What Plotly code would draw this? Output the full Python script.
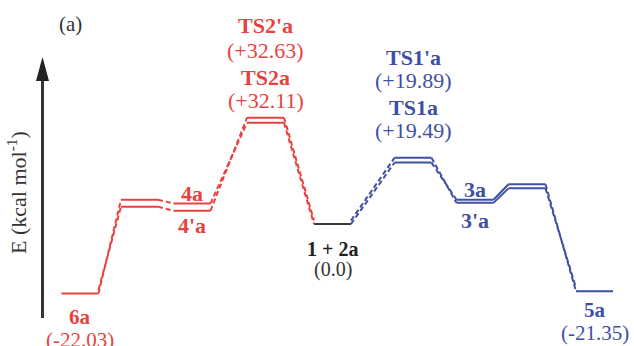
import plotly.graph_objects as go

# ---------------- data ----------------
state_names  = ["6a", "INT", "4a", "TS2a", "1 + 2a", "TS1a", "3a", "TS", "5a"]
prime_names  = [None, None, "4'a", "TS2'a", None, "TS1'a", "3'a", None, None]
state_branch = ["TS2", "TS2", "TS2", "TS2", "ref", "TS1", "TS1", "TS1", "TS1"]
energy       = [-22.03, 7.7, 6.5, 32.11, 0.0, 19.49, 7.7, 12.6, -21.35]
energy_prime = [None, 4.4, 3.1, 32.63, None, 19.89, 5.6, 10.2, None]
show_name    = [True, False, True, True, True, True, True, False, True]
show_energy  = [True, False, False, True, True, True, False, False, True]

# ---------------- layout / style ----------------
W, H = 634, 346
ZERO_PX = 224          # pixel row of E = 0
PX_PER_KCAL = 3.15
PRIME_SHIFT_PX = 3.5   # visual offset of the primed pathway (double lines)
level_x = [80, 139.5, 192, 265.5, 332.5, 413, 475, 527, 594.5]
HALF_W = 18.5
solid_links = {6}

COLORS = {"TS2": "#E8423F", "ref": "#3A3A3A", "TS1": "#3F4FA3"}
TEXT_COLORS = {"TS2": "#E8423F", "ref": "#222222", "TS1": "#3F4FA3"}
FONT = "Liberation Serif, Times New Roman, serif"
FS = 22
FS_SMALL = [21, None, 22, 22, 20, 22, 22, None, 21]

# pixel offsets of the labels relative to their level line
NAME_DY         = [-24, None, 10, 45, -25, 55, 10, None, -19]
ENERGY_DY       = [-47, None, None, 22, -45, 32, None, None, -42]
PRIME_NAME_DY   = [None, None, -15, 92, None, 100, -18, None, None]
PRIME_ENERGY_DY = [None, None, None, 67, None, 77, None, None, None]

n = len(state_names)
y_range = [-(H - ZERO_PX) / PX_PER_KCAL, ZERO_PX / PX_PER_KCAL]
shift = PRIME_SHIFT_PX / PX_PER_KCAL
y2_range = [y_range[0] - shift, y_range[1] - shift]

segs = {}


def add(key, x0, y0, x1, y1):
    d = segs.setdefault(key, {"x": [], "y": []})
    d["x"] += [x0, x1, None]
    d["y"] += [y0, y1, None]


for E, axis in [(energy, "y"), (energy_prime, "y2")]:
    vals = [E[i] if E[i] is not None else energy[i] for i in range(n)]
    for i in range(n):
        if E[i] is not None:
            add((state_branch[i], axis, "solid"),
                level_x[i] - HALF_W, vals[i], level_x[i] + HALF_W, vals[i])
    for i in range(n - 1):
        if E[i] is None and E[i + 1] is None:
            continue
        b = state_branch[i] if state_branch[i] != "ref" else state_branch[i + 1]
        dash = "solid" if i in solid_links else "dash"
        add((b, axis, dash),
            level_x[i] + HALF_W, vals[i], level_x[i + 1] - HALF_W, vals[i + 1])

fig = go.Figure()
for (branch, axis, dash), d in segs.items():
    fig.add_trace(go.Scatter(
        x=d["x"], y=d["y"], mode="lines", yaxis=axis,
        line=dict(color=COLORS[branch], width=2,
                  dash="solid" if dash == "solid" else "5px,3px"),
        hoverinfo="skip", showlegend=False))


def fmt(e):
    return "(0.0)" if e == 0 else f"({e:+.2f})"


annotations = []


def label(x, y, yref, dy, text, color, bold, size):
    annotations.append(dict(
        x=x, y=y, xref="x", yref=yref, yshift=dy, showarrow=False,
        text=f"<b>{text}</b>" if bold else text,
        xanchor="center", yanchor="middle",
        font=dict(family=FONT, size=size, color=color)))


for i in range(n):
    c = TEXT_COLORS[state_branch[i]]
    fs = FS_SMALL[i] or FS
    if show_name[i]:
        label(level_x[i], energy[i], "y", NAME_DY[i], state_names[i], c, True, fs)
    if show_energy[i]:
        ec = "#333333" if state_branch[i] == "ref" else c
        label(level_x[i], energy[i], "y", ENERGY_DY[i], fmt(energy[i]), ec, False, fs)
    if prime_names[i] is not None:
        label(level_x[i], energy_prime[i], "y2", PRIME_NAME_DY[i], prime_names[i], c, True, fs)
        if PRIME_ENERGY_DY[i] is not None:
            label(level_x[i], energy_prime[i], "y2", PRIME_ENERGY_DY[i],
                  fmt(energy_prime[i]), c, False, fs)

# panel label and energy-axis title
annotations.append(dict(x=70, y=1 - 24 / H, xref="x", yref="paper", showarrow=False,
                        text="(a)", xanchor="center", yanchor="middle",
                        font=dict(family=FONT, size=21, color="#333333")))
annotations.append(dict(x=17, y=1 - 193 / H, xref="x", yref="paper", showarrow=False,
                        text="E (kcal mol<sup>-1</sup>)", textangle=-90,
                        xanchor="center", yanchor="middle",
                        font=dict(family=FONT, size=22, color="#333333")))

AX_X = 42.5
shapes = [
    dict(type="line", xref="x", yref="paper", x0=AX_X, x1=AX_X,
         y0=1 - 318 / H, y1=1 - 78 / H, line=dict(color="#333333", width=3)),
    dict(type="path", xref="x", yref="paper",
         path=(f"M {AX_X - 6.5},{1 - 81 / H} L {AX_X + 6.5},{1 - 81 / H} "
               f"L {AX_X},{1 - 57 / H} Z"),
         fillcolor="#222222", line=dict(color="#222222", width=0)),
]

fig.update_layout(
    width=W, height=H, margin=dict(l=0, r=0, t=0, b=0),
    paper_bgcolor="white", plot_bgcolor="white",
    xaxis=dict(range=[0, W], visible=False, fixedrange=True),
    yaxis=dict(range=y_range, visible=False, fixedrange=True),
    yaxis2=dict(range=y2_range, visible=False, overlaying="y", fixedrange=True),
    annotations=annotations, shapes=shapes,
)

fig.write_html("out.html", config={"displayModeBar": False},
               post_script="document.body.style.margin='0';"
                           "document.body.style.overflow='hidden';")
